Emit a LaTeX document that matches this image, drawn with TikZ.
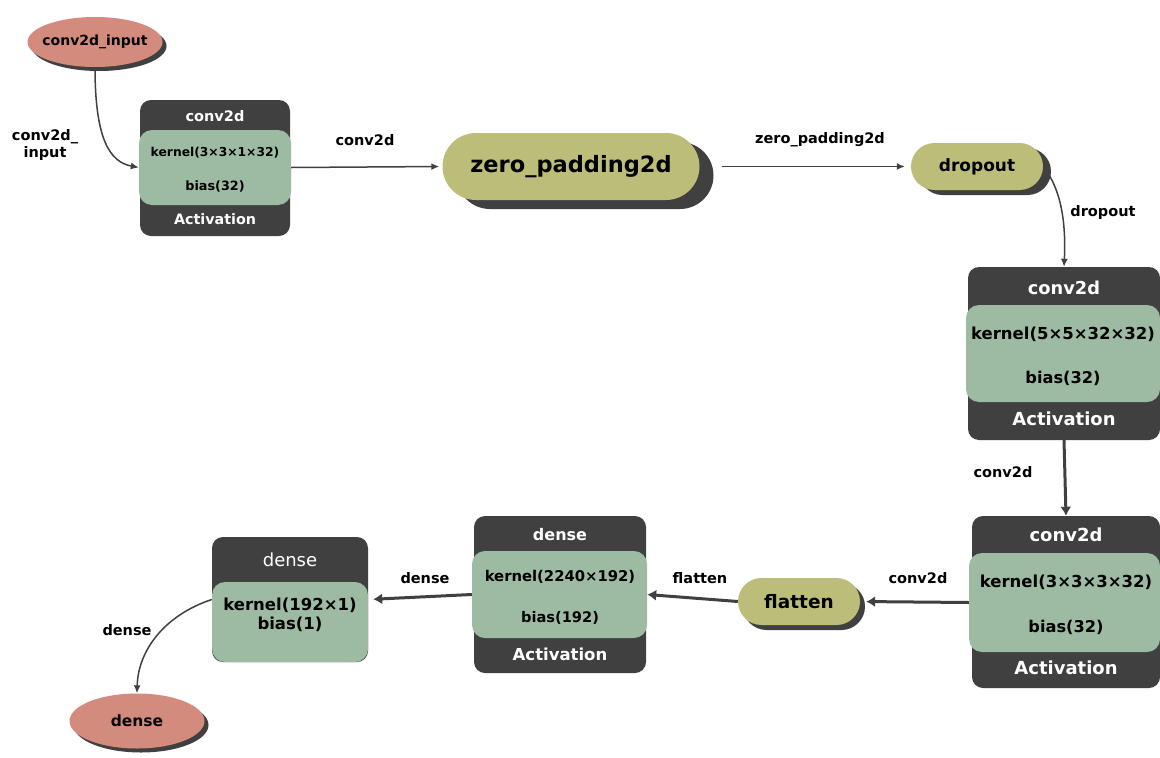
\documentclass[tikz,border=0pt]{standalone}
\usepackage{fontspec}
\setmainfont{DejaVu Sans}
\usetikzlibrary{shapes.geometric,shapes.misc,shadows,arrows.meta}
\definecolor{salmon}{HTML}{D38B7D}
\definecolor{olive}{HTML}{BDBD7A}
\definecolor{sage}{HTML}{9DBBA2}
\definecolor{charcoal}{HTML}{404040}
\newcommand{\fsz}[1]{\fontsize{#1}{#1}\selectfont\bfseries}

\begin{document}
\begin{tikzpicture}[x=1pt, y=-1pt,
    lbl/.style={font=\fontsize{14.5}{17}\selectfont\bfseries, align=center},
    outer/.style={fill=charcoal, rounded corners=11pt, inner sep=0pt},
    inner/.style={fill=sage, rounded corners=13pt, inner sep=0pt},
    hd/.style={text=white},
    shd/.style={drop shadow={shadow xshift=#1, shadow yshift=-#1, fill=charcoal, opacity=1}},
    pill/.style={rounded rectangle, fill=olive, inner sep=0pt},
    io/.style={ellipse, fill=salmon, inner sep=0pt, shd=4pt},
    arr/.style={draw=charcoal, line width=1.5pt, -{Latex[length=8pt,width=7pt]}},
    arrb/.style={arr, line width=3pt, -{Latex[length=9pt,width=11pt]}}]
  \useasboundingbox (0,0) rectangle (1160,758);

  % input / output
  \node[io, inner xsep=-7pt, minimum width=135, minimum height=50, font=\fsz{14}] (inp) at (95,42) {conv2d\_input};
  \node[io, minimum width=135, minimum height=55, font=\fsz{15.5}] (out) at (137,721) {dense};

  % conv2d 1
  \node[outer, minimum width=150, minimum height=136] (c1) at (215,168) {};
  \node[inner, minimum width=152, minimum height=75] (c1g) at (215,167.5) {};
  \node[hd, font=\fsz{14.5}] (c1h) at (215,116) {conv2d};
  \node[font=\fsz{12.3}] (c1k) at (215,153) {kernel(3×3×1×32)};
  \node[font=\fsz{12.8}] (c1b) at (215,186) {bias(32)};
  \node[hd, font=\fsz{14.3}] (c1a) at (215,219) {Activation};

  % layers without weights
  \node[pill, minimum width=257, minimum height=67, font=\fsz{22.5},
        drop shadow={shadow xshift=14pt, shadow yshift=-9pt, fill=charcoal, opacity=1}] (zp) at (571,166.5) {zero\_padding2d};
  \node[pill, minimum width=132, minimum height=47, font=\fsz{17},
        drop shadow={shadow xshift=8pt, shadow yshift=-5pt, fill=charcoal, opacity=1}] (drop) at (977,166.5) {dropout};
  \node[pill, minimum width=122, minimum height=47, font=\fsz{18.5}, shd=5pt] (fl) at (799,601.5) {flatten};

  % conv2d 2
  \node[outer, minimum width=192, minimum height=173] (c2) at (1064,353.5) {};
  \node[inner, minimum width=194, minimum height=97] (c2g) at (1063,353.5) {};
  \node[hd, font=\fsz{17.8}] (c2h) at (1064,288) {conv2d};
  \node[font=\fsz{16.5}] (c2k) at (1063,334) {kernel(5×5×32×32)};
  \node[font=\fsz{16.2}] (c2b) at (1063,378) {bias(32)};
  \node[hd, font=\fsz{18}] (c2a) at (1064,419) {Activation};

  % conv2d 3
  \node[outer, minimum width=188, minimum height=172] (c3) at (1066,602) {};
  \node[inner, minimum width=191, minimum height=99] (c3g) at (1064.5,602.5) {};
  \node[hd, font=\fsz{18}] (c3h) at (1066,535) {conv2d};
  \node[font=\fsz{16.5}] (c3k) at (1066,582) {kernel(3×3×3×32)};
  \node[font=\fsz{16.2}] (c3b) at (1066,627) {bias(32)};
  \node[hd, font=\fsz{18}] (c3a) at (1066,668) {Activation};

  % dense 1
  \node[outer, minimum width=172, minimum height=157] (d1) at (560,594.5) {};
  \node[inner, minimum width=175, minimum height=87] (d1g) at (559.5,594.5) {};
  \node[hd, font=\fsz{16}] (d1h) at (560,535) {dense};
  \node[font=\fsz{14.8}] (d1k) at (560,577) {kernel(2240×192)};
  \node[font=\fsz{14.6}] (d1b) at (560,618) {bias(192)};
  \node[hd, font=\fsz{16.5}] (d1a) at (560,654) {Activation};

  % dense 2
  \node[outer, minimum width=156, minimum height=125] (d2) at (290,599.5) {};
  \node[inner, minimum width=156, minimum height=80] (d2g) at (290,622) {};
  \node[hd, font=\fontsize{18}{18}\selectfont] (d2h) at (290,560) {dense};
  \node[font=\fsz{16.5}, align=center] (d2k) at (290,615) {kernel(192×1)\\[3pt]bias(1)};

  % connectors
  \draw[arr] (inp.south) .. controls (95,140) and (110,162) .. (c1g.west);
  \draw[arr, shorten >=3pt] (c1g.east) -- (zp.west);
  \draw[arr, shorten <=22pt, shorten >=6pt] (zp.east) -- (drop.west);
  \draw[arr] (drop.east) .. controls (1062,190) and (1066,225) .. (c2.north);
  \draw[arrb] (c2.south) -- (c3.north);
  \draw[arrb, shorten >=6pt] (c3g.west) -- (fl.east);
  \draw[arrb] (fl.west) -- (d1g.east);
  \draw[arrb, shorten >=5pt] (d1g.west) -- (d2.east);
  \draw[arr] (d2.west) .. controls (165,615) and (138,650) .. (out.north);

  % edge labels
  \node[lbl] (t1) at (45,145) {conv2d\_\\input};
  \node[lbl] (t2) at (365,140) {conv2d};
  \node[lbl] (t3) at (820,140) {zero\_padding2d};
  \node[lbl] (t4) at (1103,212) {dropout};
  \node[lbl] (t5) at (1003,472) {conv2d};
  \node[lbl] (t6) at (918,578) {conv2d};
  \node[lbl] (t7) at (700,578) {flatten};
  \node[lbl] (t8) at (425,578) {dense};
  \node[lbl] (t9) at (127,630) {dense};
\end{tikzpicture}
\end{document}
